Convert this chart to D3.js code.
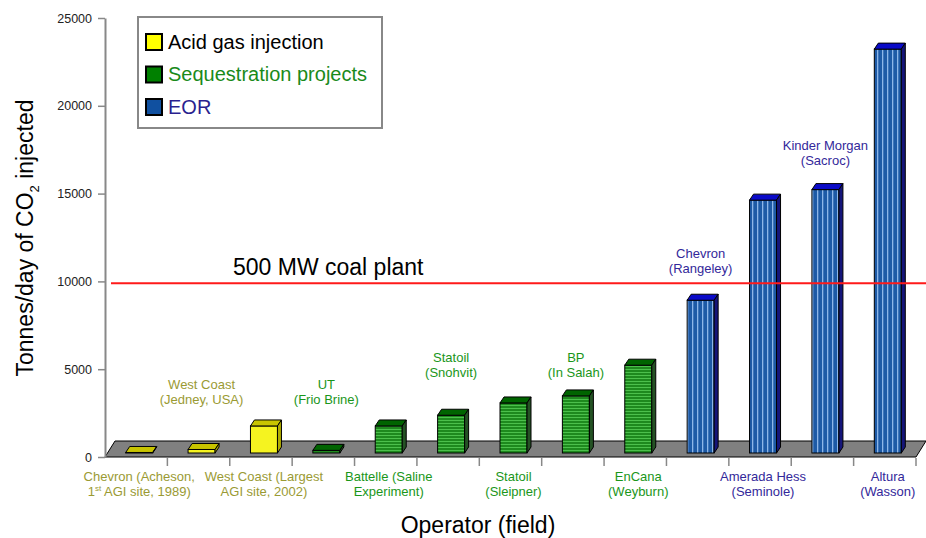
<html>
<head>
<meta charset="utf-8">
<title>CO2 injection</title>
<style>
  body { margin: 0; background: #fff; }
  text { font-family: "Liberation Sans", Arial, sans-serif; }
</style>
</head>
<body>
<svg width="926" height="538"></svg>
<script src="https://d3js.org/d3.v7.min.js"></script>
<script>

// data
var labelLines = [
  ["Chevron (Acheson,", "1st AGI site, 1989)"],
  ["West Coast", "(Jedney, USA)"],
  ["West Coast (Largest", "AGI site, 2002)"],
  ["UT", "(Frio Brine)"],
  ["Battelle (Saline", "Experiment)"],
  ["Statoil", "(Snohvit)"],
  ["Statoil", "(Sleipner)"],
  ["BP", "(In Salah)"],
  ["EnCana", "(Weyburn)"],
  ["Chevron", "(Rangeley)"],
  ["Amerada Hess", "(Seminole)"],
  ["Kinder Morgan", "(Sacroc)"],
  ["Altura", "(Wasson)"]
];
var types = ["acid", "acid", "acid", "seq", "seq", "seq", "seq", "seq", "seq", "eor", "eor", "eor", "eor"];
var values = [30, 200, 1540, 150, 1540, 2150, 2850, 3250, 5000, 8700, 14400, 15000, 23000];
var yTicks = [0, 5000, 10000, 15000, 20000, 25000];
var coalPlant = 9900;
var legendNames = ["Acid gas injection", "Sequestration projects", "EOR"];
var legendTypes = ["acid", "seq", "eor"];

var svg = d3.select('svg');

var textColor = { acid: "#9a9a33", seq: "#1a961a", eor: "#33289a" };
var legendText = { acid: "#000", seq: "#1a8a1a", eor: "#2a1f8f" };
var swatch = { acid: "#ffff00", seq: "#008000", eor: "#1050a0" };
var frontCol = { acid: "#f5f320", seq: "url(#gstripe)", eor: "url(#bstripe)" };
var topCol = { acid: "#c8c400", seq: "#006400", eor: "#0a0ac8" };
var sideCol = { acid: "#b0ac00", seq: "#245224", eor: "#15157a" };

var idx = d3.range(values.length);
var x = d3.scaleBand().domain(idx).range([105, 916]);
var y = d3.scaleLinear().domain([0, 25000]).range([457, 18]);

// stripe patterns
var defs = svg.append("defs");
var gp = defs.append("pattern").attr("id", "gstripe").attr("patternUnits", "userSpaceOnUse")
  .attr("width", 4).attr("height", 3);
gp.append("rect").attr("width", 4).attr("height", 3).attr("fill", "#1e8a1e");
gp.append("rect").attr("width", 4).attr("height", 1).attr("fill", "#4cc04c");
var bp = defs.append("pattern").attr("id", "bstripe").attr("patternUnits", "userSpaceOnUse")
  .attr("width", 5).attr("height", 4);
bp.append("rect").attr("width", 5).attr("height", 4).attr("fill", "#1d5aa6");
bp.append("rect").attr("x", 2).attr("width", 1.3).attr("height", 4).attr("fill", "#8db6e8");

// floor
var fx0 = x.range()[0], fx1 = x.range()[1], fy = y(0);
svg.append("polygon")
  .attr("points", [[fx0, fy], [fx1, fy], [fx1 + 10, fy - 16], [fx0 + 10, fy - 16]].join(" "))
  .attr("fill", "#808080").attr("stroke", "#000").attr("stroke-width", 1);

// y axis
var yAxis = svg.append("g").attr("transform", "translate(105,0)")
  .call(d3.axisLeft(y).tickValues(yTicks).tickSize(7).tickPadding(6).tickSizeOuter(0).tickFormat(d3.format("d")));
yAxis.select(".domain").attr("stroke", "#888").attr("stroke-width", 2);
yAxis.selectAll(".tick line").attr("stroke", "#888").attr("stroke-width", 1.5);
yAxis.selectAll(".tick text").attr("font-family", "DejaVu Sans").attr("font-size", 12.5).attr("fill", "#222");

// x ticks between categories
svg.selectAll("line.xt").data(idx).enter().append("line").attr("class", "xt")
  .attr("x1", function(d) { return x(d) + x.bandwidth(); })
  .attr("x2", function(d) { return x(d) + x.bandwidth(); })
  .attr("y1", fy + 1).attr("y2", fy + 9)
  .attr("stroke", "#888").attr("stroke-width", 1.5);

// 3d bars
var bw = 27, ddx = 4, ddy = -6, sx = 3, sy = -4;
var bars = svg.selectAll("g.bar").data(idx).enter().append("g").attr("class", "bar");
function bx(d) { return x(d) + x.bandwidth() / 2 + sx - bw / 2; }
function by(d) { return y(values[d]) + sy; }
var base = y(0) + sy;
bars.append("rect")
  .attr("x", bx).attr("y", by)
  .attr("width", bw).attr("height", function(d) { return base - by(d); })
  .attr("fill", function(d) { return frontCol[types[d]]; })
  .attr("stroke", "#000").attr("stroke-width", 1);
bars.append("polygon")
  .attr("points", function(d) {
    var l = bx(d), t = by(d);
    return [[l, t], [l + bw, t], [l + bw + ddx, t + ddy], [l + ddx, t + ddy]].join(" ");
  })
  .attr("fill", function(d) { return topCol[types[d]]; })
  .attr("stroke", "#000").attr("stroke-width", 1);
bars.append("polygon")
  .attr("points", function(d) {
    var r = bx(d) + bw, t = by(d);
    return [[r, t], [r + ddx, t + ddy], [r + ddx, base + ddy], [r, base]].join(" ");
  })
  .attr("fill", function(d) { return sideCol[types[d]]; })
  .attr("stroke", "#000").attr("stroke-width", 1);

// coal plant line
svg.append("line")
  .attr("x1", 111).attr("x2", 926)
  .attr("y1", y(coalPlant)).attr("y2", y(coalPlant))
  .attr("stroke", "#ff1a1a").attr("stroke-width", 2);
svg.append("text").attr("x", 233).attr("y", y(coalPlant) - 8)
  .attr("font-size", 23).attr("fill", "#000").text("500 MW coal plant");

// category labels: even ones under the floor, odd ones above the bars
var upperBase = { 1: 389, 3: 389, 5: 362, 7: 362, 9: 258, 11: 150 };
idx.forEach(function(d) {
  var cx = x(d) + x.bandwidth() / 2 + 3;
  var y0 = d % 2 === 0 ? 481 : upperBase[d];
  var t = svg.append("text").attr("text-anchor", "middle").attr("font-size", 13)
    .attr("fill", textColor[types[d]]);
  labelLines[d].forEach(function(line, k) {
    var m = line.match(/^(\d)(st)(.*)$/);
    if (m) {
      t.append("tspan").attr("x", cx).attr("y", y0 + k * 15).text(m[1]);
      t.append("tspan").attr("font-size", 8).attr("dy", -5).text(m[2]);
      t.append("tspan").attr("dy", 5).text(m[3]);
    } else {
      t.append("tspan").attr("x", cx).attr("y", y0 + k * 15).text(line);
    }
  });
});

// axis titles
svg.append("text").attr("x", 478).attr("y", 533).attr("text-anchor", "middle")
  .attr("font-size", 23).text("Operator (field)");
var yt = svg.append("text").attr("transform", "translate(33,238) rotate(-90)")
  .attr("text-anchor", "middle").attr("font-size", 23);
yt.append("tspan").text("Tonnes/day of CO");
yt.append("tspan").attr("font-size", 13).attr("dy", 6).text("2");
yt.append("tspan").attr("dy", -6).text(" injected");

// legend
svg.append("rect").attr("x", 138).attr("y", 17).attr("width", 244).attr("height", 111)
  .attr("fill", "#fff").attr("stroke", "#888").attr("stroke-width", 2);
var lg = svg.selectAll("g.lg").data(legendTypes).enter().append("g").attr("class", "lg")
  .attr("transform", function(d, i) { return "translate(146," + (34 + i * 32.5) + ")"; });
lg.append("rect").attr("width", 16).attr("height", 16)
  .attr("fill", function(d) { return swatch[d]; })
  .attr("stroke", "#000").attr("stroke-width", 2);
lg.append("text").attr("x", 22).attr("y", 14.5).attr("font-size", 20)
  .attr("fill", function(d) { return legendText[d]; })
  .text(function(d, i) { return legendNames[i]; });

</script>
</body>
</html>
